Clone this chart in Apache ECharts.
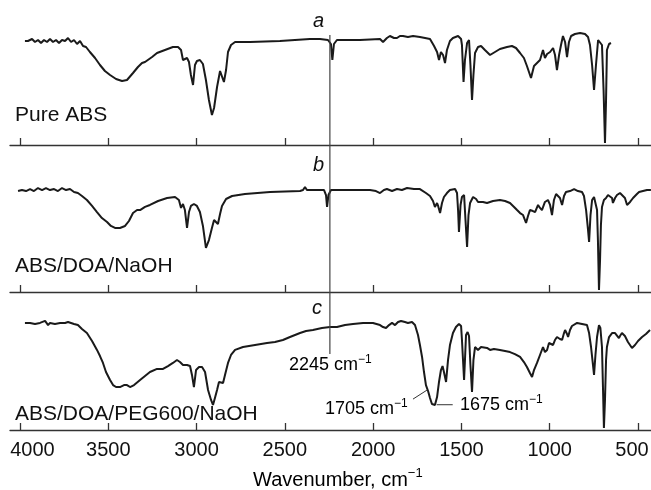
<!DOCTYPE html>
<html><head><meta charset="utf-8">
<script src="https://cdn.jsdelivr.net/npm/echarts@6/dist/echarts.min.js"></script>
<style>html,body{margin:0;padding:0;background:#fff}#c{width:651px;height:490px}</style>
</head><body><div id="c"></div>
<script>
// x axis (wavenumber, cm-1, reversed)
const xTicks = [4000, 3500, 3000, 2500, 2000, 1500, 1000, 500];
const xMin = 426.4, xMax = 4056.6;

// spectra: [wavenumber, transmittance (arbitrary %, per panel)]
const pureABS = [[3972,83.2],[3955,83.2],[3932,84.8],[3915,82.4],[3898,84.0],[3881,81.6],[3864,84.0],[3847,82.4],[3830,84.8],[3813,82.4],[3796,84.0],[3779,81.6],[3762,84.0],[3745,83.2],[3728,85.6],[3711,82.4],[3694,84.0],[3677,80.8],[3660,83.2],[3643,79.2],[3626,78.4],[3604,74.4],[3575,69.6],[3547,64.0],[3519,59.2],[3490,56.0],[3456,52.8],[3422,51.2],[3394,52.0],[3360,57.6],[3332,62.4],[3309,65.6],[3292,66.4],[3281,66.4],[3252,70.4],[3224,73.6],[3179,76.0],[3134,78.4],[3105,78.4],[3088,76.0],[3077,68.0],[3066,66.4],[3054,69.6],[3043,66.4],[3032,56.0],[3020,48.0],[3009,64.0],[2998,67.2],[2981,68.0],[2964,64.8],[2947,52.0],[2930,36.0],[2913,24.0],[2901,29.6],[2884,46.4],[2867,59.2],[2856,58.4],[2845,50.4],[2833,60.0],[2822,74.4],[2805,80.0],[2782,82.4],[2697,82.4],[2528,83.2],[2358,84.8],[2301,84.8],[2256,84.0],[2239,80.8],[2231,68.0],[2222,80.8],[2205,84.0],[2075,84.0],[1961,84.8],[1944,82.4],[1922,85.6],[1905,87.2],[1882,85.6],[1865,85.6],[1848,87.2],[1831,87.2],[1803,86.4],[1774,87.2],[1735,86.4],[1706,85.6],[1678,84.8],[1655,79.2],[1638,74.4],[1627,68.0],[1616,74.4],[1604,72.0],[1593,65.6],[1582,76.0],[1565,83.2],[1548,85.6],[1519,87.2],[1502,84.8],[1497,80.0],[1488,50.4],[1480,68.0],[1468,81.6],[1457,84.0],[1449,64.0],[1440,36.0],[1432,56.0],[1423,73.6],[1406,78.4],[1389,79.2],[1367,76.0],[1338,72.0],[1310,74.4],[1282,76.8],[1242,78.4],[1214,79.2],[1191,77.6],[1168,73.6],[1146,69.6],[1129,63.2],[1106,53.6],[1089,63.2],[1072,65.6],[1055,68.0],[1038,76.0],[1027,69.6],[1015,72.8],[998,74.4],[981,77.6],[970,72.0],[959,60.0],[947,72.0],[936,80.0],[925,87.2],[913,82.4],[902,70.4],[891,82.4],[879,87.2],[857,88.8],[828,89.6],[800,88.8],[783,86.4],[772,80.0],[760,64.0],[749,44.0],[738,64.0],[726,84.0],[715,84.8],[704,80.0],[695,44.0],[687,1.6],[681,36.0],[676,76.0],[664,80.8],[653,81.6]];

const absDoaNaOH = [[4011,71.1],[3989,71.8],[3966,71.1],[3943,72.5],[3921,71.1],[3898,73.2],[3875,71.8],[3853,73.2],[3830,71.8],[3807,72.5],[3785,71.1],[3762,73.2],[3739,71.8],[3717,72.5],[3694,70.4],[3672,69.7],[3649,67.6],[3621,64.8],[3592,60.6],[3564,56.3],[3536,52.1],[3507,49.3],[3485,46.5],[3462,45.1],[3434,45.1],[3405,46.5],[3383,50.0],[3360,55.6],[3337,57.7],[3320,57.7],[3292,59.9],[3264,61.3],[3218,64.1],[3167,66.2],[3122,66.9],[3100,64.8],[3088,59.2],[3077,62.0],[3066,57.7],[3054,45.1],[3043,56.3],[3032,60.6],[3015,62.0],[2998,60.6],[2981,56.3],[2964,46.5],[2947,31.0],[2930,36.6],[2913,45.1],[2901,50.7],[2890,51.4],[2879,47.9],[2867,54.9],[2856,60.6],[2833,65.5],[2799,67.6],[2726,69.0],[2584,70.4],[2414,71.1],[2397,71.8],[2386,73.9],[2375,71.8],[2329,71.8],[2278,71.8],[2267,68.3],[2261,59.9],[2253,68.3],[2239,71.8],[2131,71.8],[2018,71.8],[1984,71.1],[1961,69.7],[1939,71.8],[1922,72.5],[1893,71.1],[1865,72.5],[1837,71.8],[1808,73.2],[1769,72.5],[1735,72.5],[1701,69.7],[1678,67.6],[1661,64.1],[1650,59.9],[1638,62.7],[1632,60.6],[1621,55.6],[1610,62.7],[1599,66.9],[1582,69.7],[1565,71.8],[1536,72.5],[1525,69.7],[1519,57.7],[1514,42.3],[1505,61.3],[1497,66.9],[1485,68.3],[1477,50.7],[1468,31.7],[1460,54.2],[1451,62.7],[1434,66.9],[1417,65.5],[1406,63.4],[1378,63.4],[1355,62.7],[1321,64.1],[1282,64.8],[1253,64.1],[1225,62.7],[1202,59.9],[1185,57.7],[1168,55.6],[1151,54.2],[1134,48.6],[1123,53.5],[1112,57.7],[1095,57.0],[1083,56.3],[1066,61.3],[1055,59.2],[1044,57.7],[1027,63.4],[1010,64.8],[998,61.3],[987,54.2],[976,64.8],[964,69.0],[953,69.7],[942,66.2],[930,61.3],[919,67.6],[908,70.4],[885,71.1],[862,72.5],[840,71.1],[817,70.4],[806,67.6],[794,57.7],[783,43.7],[777,35.2],[769,54.2],[760,64.8],[749,66.9],[738,66.2],[732,57.7],[727,36.6],[721,1.4],[715,22.5],[710,47.2],[704,59.9],[693,64.8],[681,66.2],[670,68.3],[659,69.7],[647,66.2],[642,62.7],[630,66.2],[619,68.3],[602,69.7],[591,69.7],[574,66.2],[562,61.3],[545,63.4],[528,66.2],[506,69.0],[494,70.4],[472,71.1],[449,71.8],[427,71.8]];

const absDoaPegNaOH = [[3972,80.5],[3943,80.5],[3915,79.7],[3887,80.5],[3858,82.0],[3841,78.9],[3830,80.5],[3802,79.7],[3773,80.5],[3745,80.5],[3728,81.2],[3717,80.5],[3694,79.7],[3672,78.9],[3649,75.9],[3621,72.9],[3592,66.9],[3564,60.2],[3547,55.6],[3530,50.4],[3513,43.6],[3490,37.6],[3473,33.8],[3456,32.3],[3434,32.3],[3411,33.8],[3394,33.8],[3377,32.3],[3354,33.8],[3320,37.6],[3292,40.6],[3264,43.6],[3224,45.9],[3190,45.9],[3162,48.1],[3134,50.4],[3111,52.6],[3094,51.1],[3077,48.9],[3066,47.4],[3054,48.9],[3037,48.1],[3026,41.4],[3015,32.3],[3003,45.1],[2986,47.4],[2969,47.4],[2952,43.6],[2935,30.1],[2918,22.6],[2907,18.8],[2896,24.1],[2884,30.1],[2873,36.1],[2862,37.6],[2850,35.3],[2839,41.4],[2822,50.4],[2805,56.4],[2782,60.2],[2737,62.4],[2669,63.9],[2601,65.4],[2556,66.2],[2511,67.7],[2471,69.9],[2414,72.9],[2380,74.4],[2341,75.2],[2335,75.9],[2330,74.4],[2290,76.7],[2244,77.4],[2205,77.4],[2159,78.9],[2114,79.7],[2057,80.5],[2001,80.5],[1961,78.9],[1944,77.4],[1927,76.7],[1910,78.9],[1893,80.5],[1876,78.9],[1859,81.2],[1842,82.0],[1831,83.5],[1820,81.2],[1803,80.5],[1780,81.2],[1763,78.9],[1746,71.4],[1735,63.9],[1723,54.9],[1712,43.6],[1701,33.8],[1689,29.3],[1678,24.1],[1667,19.5],[1661,18.0],[1650,18.8],[1638,24.8],[1627,36.1],[1616,45.1],[1607,48.1],[1599,43.6],[1587,36.1],[1576,52.6],[1565,63.9],[1548,72.9],[1531,77.4],[1514,79.7],[1502,78.2],[1497,67.7],[1491,52.6],[1485,37.6],[1480,52.6],[1474,71.4],[1465,73.7],[1457,70.7],[1449,48.9],[1440,28.6],[1432,52.6],[1423,62.4],[1406,60.2],[1389,62.4],[1378,60.9],[1355,61.7],[1338,60.2],[1316,60.9],[1282,60.2],[1253,59.4],[1225,58.6],[1197,57.1],[1168,54.9],[1146,51.1],[1129,47.4],[1112,42.9],[1100,39.8],[1089,45.1],[1072,50.4],[1055,56.4],[1038,62.4],[1027,58.6],[1015,60.2],[1004,65.4],[993,66.2],[981,63.9],[970,67.7],[959,69.9],[942,68.4],[930,67.7],[919,72.9],[913,75.2],[902,72.2],[896,69.9],[885,75.2],[874,78.2],[845,80.5],[817,79.7],[789,78.9],[777,72.9],[766,62.4],[755,48.9],[749,41.4],[741,56.4],[732,69.9],[721,78.9],[713,76.7],[704,62.4],[698,30.1],[693,1.5],[687,22.6],[681,52.6],[676,62.4],[664,69.9],[647,72.9],[630,72.9],[619,72.9],[608,69.1],[602,70.7],[591,72.9],[574,70.7],[557,66.2],[534,61.7],[517,63.9],[500,66.9],[477,69.9],[455,72.2],[432,75.2]];

const panelNames = ['Pure ABS', 'ABS/DOA/NaOH', 'ABS/DOA/PEG600/NaOH'];
const panelLetters = ['a', 'b', 'c'];
const markerWn = 2245;
const peak1705 = [1695, 30.0];
const peak1675 = [1640, 19.0];

const FONT = "'Liberation Sans', Arial, Helvetica, sans-serif";
const INK = '#1a1a1a';
const chart = echarts.init(document.getElementById('c'), null, {renderer: 'canvas'});

const grids = [
  {left: 10, width: 641, top: 20, height: 125, outerBoundsMode: 'none', containLabel: false},
  {left: 10, width: 641, top: 150, height: 142, outerBoundsMode: 'none', containLabel: false},
  {left: 10, width: 641, top: 297, height: 133, outerBoundsMode: 'none', containLabel: false}
];
const spectra = [pureABS, absDoaNaOH, absDoaPegNaOH];
const tickFont = {fontSize: 20, fontFamily: FONT, color: '#111'};

const option = {
  backgroundColor: '#fff',
  animation: false,
  grid: grids,
  xAxis: grids.map((g, i) => ({
    type: 'value', gridIndex: i, inverse: true, min: xMin, max: xMax,
    splitLine: {show: false},
    axisLine: {show: true, onZero: false, lineStyle: {color: '#333', width: 1.3}},
    axisTick: {show: true, inside: true, length: 7, customValues: xTicks, lineStyle: {color: '#333', width: 1.3}},
    axisLabel: {show: i === 2, customValues: xTicks, margin: 10, fontSize: 20, color: '#111', fontFamily: FONT,
      hideOverlap: false,
      rich: {
        first: Object.assign({padding: [0, 0, 0, 25]}, tickFont),
        last: Object.assign({padding: [0, 12, 0, 0]}, tickFont)
      },
      formatter: v => v === xTicks[0] ? '{first|' + v + '}' : (v === xTicks[xTicks.length - 1] ? '{last|' + v + '}' : String(v))}
  })),
  yAxis: grids.map((g, i) => ({type: 'value', gridIndex: i, min: 0, max: 100, show: false})),
  series: spectra.map((d, i) => ({
    type: 'line', xAxisIndex: i, yAxisIndex: i, data: d, showSymbol: false, symbol: 'none',
    clip: false, lineStyle: {color: INK, width: 2}
  }))
};
chart.setOption(option);

const sup = {fontSize: 12, fontFamily: FONT, color: '#111', lineHeight: 12, verticalAlign: 'top'};
const main = (fs) => ({fontSize: fs, fontFamily: FONT, color: '#111', lineHeight: 24});
function label(text, x, y, fs, italic) {
  return {type: 'text', x: x, y: y, silent: true, z: 10,
    style: {text: text, font: (italic ? 'italic ' : '') + fs + 'px ' + FONT, fill: '#111', verticalAlign: 'middle', align: 'left'}};
}
function cmLabel(num, x, y) {
  return {type: 'text', x: x, y: y, silent: true, z: 10,
    style: {text: '{m|' + num + ' cm}{s|\u22121}', verticalAlign: 'middle', align: 'left',
      rich: {m: main(18), s: sup}}};
}

const xLine = chart.convertToPixel({xAxisIndex: 0}, markerWn);
const p1 = chart.convertToPixel({xAxisIndex: 2, yAxisIndex: 2}, peak1705);
const p2 = chart.convertToPixel({xAxisIndex: 2, yAxisIndex: 2}, peak1675);

const graphics = [
  {type: 'line', silent: true, z: 5, shape: {x1: xLine, y1: 35, x2: xLine, y2: 354}, style: {stroke: '#444', lineWidth: 1.2}},
  {type: 'line', silent: true, z: 5, shape: {x1: p1[0] - 14, y1: p1[1] + 9, x2: p1[0], y2: p1[1]}, style: {stroke: '#333', lineWidth: 1}},
  {type: 'line', silent: true, z: 5, shape: {x1: p2[0], y1: p2[1], x2: p2[0] + 16, y2: p2[1]}, style: {stroke: '#333', lineWidth: 1}},
  label(panelNames[0], 15, 115, 21, false),
  label(panelNames[1], 15, 266.5, 21, false),
  label(panelNames[2], 15, 414.5, 21, false),
  label(panelLetters[0], 313, 21, 20, true),
  label(panelLetters[1], 313, 165, 20, true),
  label(panelLetters[2], 312, 308, 20, true),
  cmLabel(markerWn, 289, 365.5),
  cmLabel('1705', 325, 409.5),
  cmLabel('1675', 460, 405.5),
  {type: 'text', x: 253, y: 480, silent: true, z: 10,
    style: {text: '{m|Wavenumber, cm}{s|\u22121}', verticalAlign: 'middle', align: 'left',
      rich: {m: {fontSize: 20, fontFamily: FONT, color: '#111', lineHeight: 26}, s: {fontSize: 13, fontFamily: FONT, color: '#111', lineHeight: 13, verticalAlign: 'top'}}}}
];
chart.setOption({graphic: graphics});
</script></body></html>
